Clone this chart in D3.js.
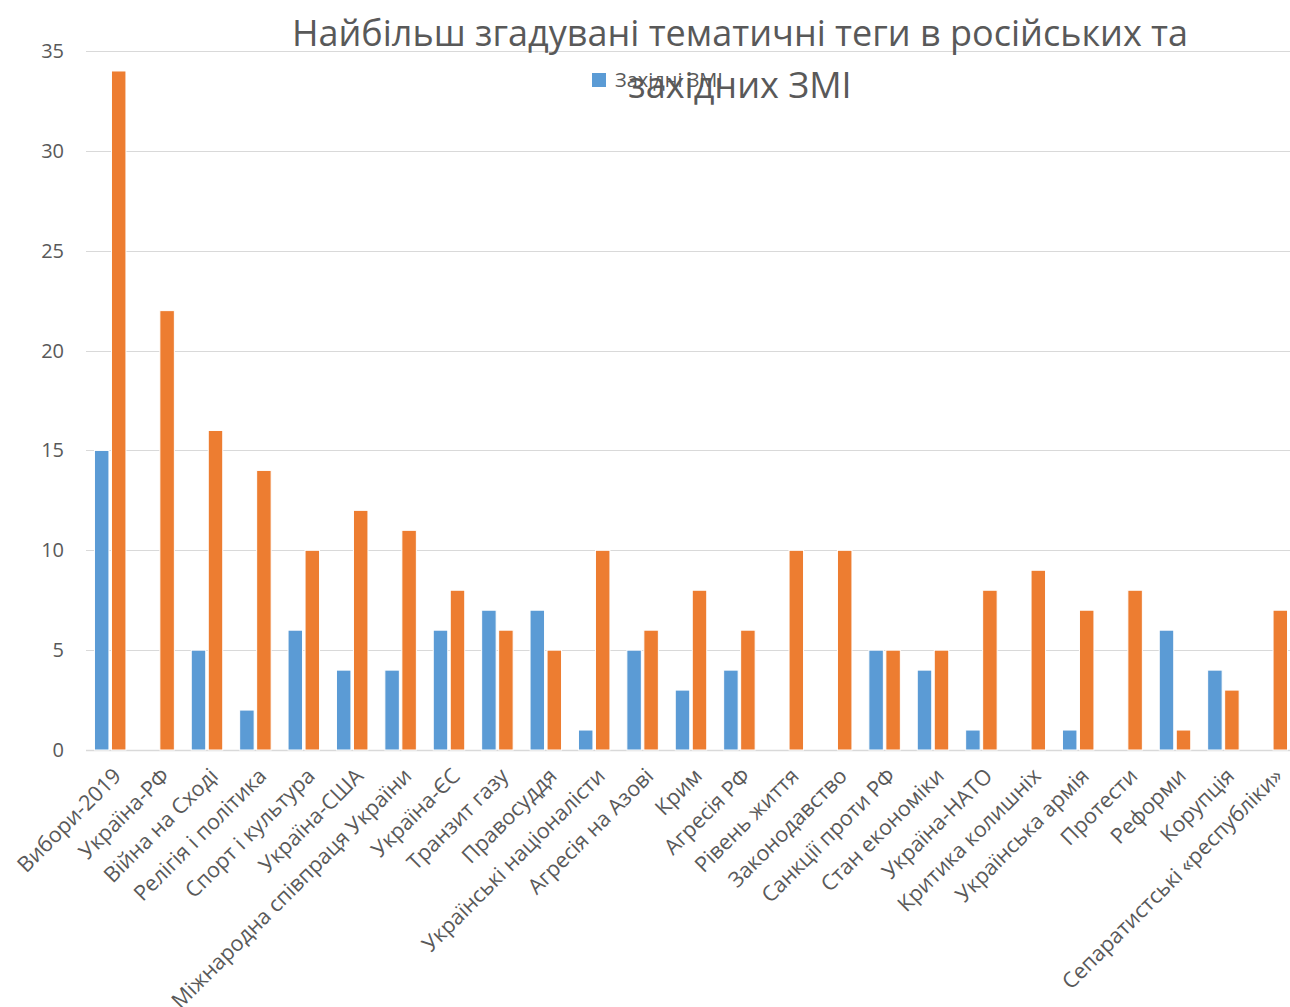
<!DOCTYPE html>
<html>
<head>
<meta charset="utf-8">
<script src="https://cdn.jsdelivr.net/npm/d3@7"></script>
<style>
  body { margin: 0; background: #fff; }
  text { font-family: "Open Sans", "Noto Sans", sans-serif; fill: #595959; }
</style>
</head>
<body>
<script>
// categories (tags) in order
var categories = [
  "Вибори-2019", "Україна-РФ", "Війна на Сході", "Релігія і політика",
  "Спорт і культура", "Україна-США", "Міжнародна співпраця України",
  "Україна-ЄС", "Транзит газу", "Правосуддя", "Українські націоналісти",
  "Агресія на Азові", "Крим", "Агресія РФ", "Рівень життя", "Законодавство",
  "Санкції проти РФ", "Стан економіки", "Україна-НАТО", "Критика колишніх",
  "Українська армія", "Протести", "Реформи", "Корупція",
  "Сепаратистські «республіки»"
];

// western media counts (blue)
var westernValues = [15, 0, 5, 2, 6, 4, 4, 6, 7, 7, 1, 5, 3, 4, 0, 0, 5, 4, 1, 0, 1, 0, 6, 4, 0];

// russian media counts (orange)
var russianValues = [34, 22, 16, 14, 10, 12, 11, 8, 6, 5, 10, 6, 8, 6, 10, 10, 5, 5, 8, 9, 7, 8, 1, 3, 7];

var yTicks = [0, 5, 10, 15, 20, 25, 30, 35];

var titleLines = ["Найбільш згадувані тематичні теги в російських та", "західних ЗМІ"];
var legendLabel = "Західні ЗМІ";

var width = 1290,
    height = 1007;

var margin = {left: 86, right: -6, top: 51, bottom: 257};

var svg = d3.select('body')
  .append('svg')
  .attr('width', width)
  .attr('height', height);

// scales
var x = d3.scaleBand()
  .domain(categories)
  .range([margin.left, width - margin.right])
  .paddingInner(0)
  .paddingOuter(0);

var y = d3.scaleLinear()
  .domain([0, 35])
  .range([height - margin.bottom, margin.top]);

var barW = 14.5, gap = 2.5;

// gridlines
svg.append('g')
  .selectAll('line')
  .data(yTicks)
  .enter()
  .append('line')
  .attr('x1', margin.left)
  .attr('x2', width)
  .attr('y1', function(d) { return Math.round(y(d)) + 0.5; })
  .attr('y2', function(d) { return Math.round(y(d)) + 0.5; })
  .attr('stroke', '#d9d9d9')
  .attr('stroke-width', function(d) { return d === 0 ? 1.5 : 1; });

// y tick labels
svg.append('g')
  .selectAll('text')
  .data(yTicks)
  .enter()
  .append('text')
  .attr('x', 64)
  .attr('y', function(d) { return y(d); })
  .attr('dy', '0.35em')
  .attr('text-anchor', 'end')
  .style('font-size', '20px')
  .text(function(d) { return d; });

// bars
var groups = svg.append('g')
  .selectAll('g')
  .data(categories)
  .enter()
  .append('g')
  .attr('transform', function(d) { return 'translate(' + (x(d) + x.bandwidth() / 2) + ',0)'; });

groups.append('rect')
  .attr('x', -barW - gap / 2)
  .attr('width', barW)
  .attr('y', function(d, i) { return y(westernValues[i]); })
  .attr('height', function(d, i) { return y(0) - y(westernValues[i]); })
  .attr('fill', '#5b9bd5')
  .attr('stroke', '#fff')
  .attr('stroke-width', 1)
  .style('display', function(d, i) { return westernValues[i] > 0 ? null : 'none'; });

groups.append('rect')
  .attr('x', gap / 2)
  .attr('width', barW)
  .attr('y', function(d, i) { return y(russianValues[i]); })
  .attr('height', function(d, i) { return y(0) - y(russianValues[i]); })
  .attr('fill', '#ed7d31')
  .attr('stroke', '#fff')
  .attr('stroke-width', 1);

// x labels rotated
svg.append('g')
  .selectAll('text')
  .data(categories)
  .enter()
  .append('text')
  .attr('transform', function(d) {
    return 'translate(' + (x(d) + x.bandwidth() / 2 + 7) + ',' + 772 + ') rotate(-45)';
  })
  .attr('text-anchor', 'end')
  .attr('dy', '0.35em')
  .style('font-size', '21.5px')
  .text(function(d) { return d; });

// title
svg.append('g')
  .selectAll('text')
  .data(titleLines)
  .enter()
  .append('text')
  .attr('x', 740)
  .attr('y', function(d, i) { return 46 + i * 52; })
  .attr('text-anchor', 'middle')
  .style('font-size', '36px')
  .text(function(d) { return d; });

// legend (only the first series shown, overlapped by the title)
svg.append('rect')
  .attr('x', 592)
  .attr('y', 73)
  .attr('width', 14)
  .attr('height', 14)
  .attr('fill', '#5b9bd5');

svg.append('text')
  .attr('x', 615)
  .attr('y', 87)
  .style('font-size', '20px')
  .text(legendLabel);
</script>
</body>
</html>
